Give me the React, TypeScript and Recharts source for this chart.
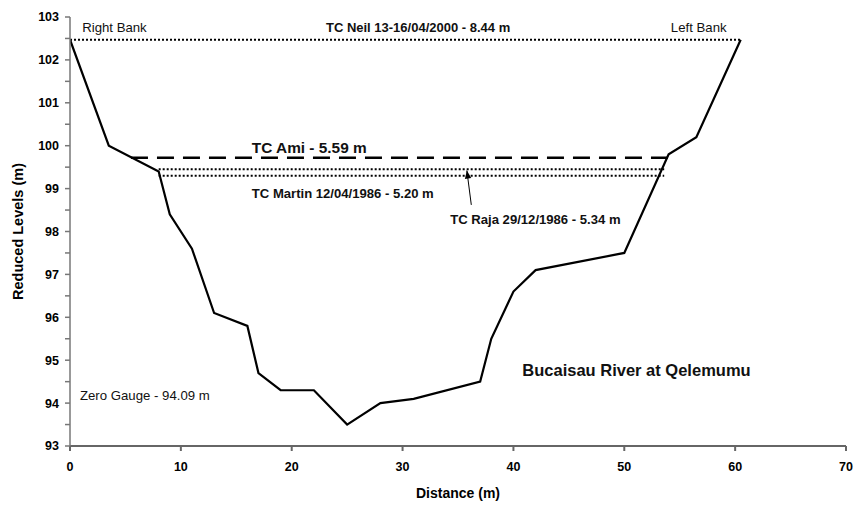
import React from 'react'
import {
  LineChart,
  Line,
  XAxis,
  YAxis,
  ReferenceDot,
} from 'recharts'

// ── Data ───────────────────────────────────────────────────────────────────────

// cross-section: distance (m) vs reduced level (m)
const distance = [0, 3.5, 8, 9, 11, 13, 16, 17, 19, 22, 25, 28, 31, 37, 38, 40, 42, 50, 54, 56.5, 60.5]
const level = [102.47, 100.0, 99.4, 98.4, 97.6, 96.1, 95.8, 94.7, 94.3, 94.3, 93.5, 94.0, 94.1, 94.5, 95.5, 96.6, 97.1, 97.5, 99.8, 100.2, 102.47]

// flood levels as drawn on the section (RL, m)
const neilLevel = 102.47
const amiLevel = 99.72
const rajaLevel = 99.45
const martinLevel = 99.3

// extents of each flood line along the section
const neilSpan = [0, 60.5]
const amiSpan = [5.5, 54]
const lowSpan = [8, 53.6]

const xTicks = [0, 10, 20, 30, 40, 50, 60, 70]
const yTicks = [93, 93.5, 94, 94.5, 95, 95.5, 96, 96.5, 97, 97.5, 98, 98.5, 99, 99.5, 100, 100.5, 101, 101.5, 102, 102.5, 103]

// arrow pointing at TC Raja line: [tail, head]
const rajaArrowX = [36.2, 35.8]
const rajaArrowY = [98.62, 99.42]

// ── Helpers ────────────────────────────────────────────────────────────────────

const FONT = '"Liberation Sans", Arial, sans-serif'

const profile = distance.map((d, i) => ({ x: d, y: level[i] }))
const flat = (span: number[], y: number) => span.map((x) => ({ x, y }))

const neilLine = flat(neilSpan, neilLevel)
const amiLine = flat(amiSpan, amiLevel)
const rajaLine = flat(lowSpan, rajaLevel)
const martinLine = flat(lowSpan, martinLevel)
const arrowLine = rajaArrowX.map((x, i) => ({ x, y: rajaArrowY[i] }))

interface Note {
  text: string
  x: number
  y: number
  size: number
  bold?: boolean
  anchor?: 'start' | 'middle' | 'end'
}

const notes: Note[] = [
  { text: 'Right Bank', x: 1.1, y: 102.66, size: 13.2 },
  { text: 'TC Neil 13-16/04/2000 - 8.44 m', x: 31.4, y: 102.66, size: 13, bold: true, anchor: 'middle' },
  { text: 'Left Bank', x: 54.2, y: 102.66, size: 13.2 },
  { text: 'TC Ami - 5.59 m', x: 16.4, y: 99.83, size: 15.4, bold: true },
  { text: 'TC Martin 12/04/1986 - 5.20 m', x: 16.4, y: 98.78, size: 13.1, bold: true },
  { text: 'TC Raja 29/12/1986 - 5.34 m', x: 34.3, y: 98.17, size: 13.1, bold: true },
  { text: 'Bucaisau River at Qelemumu', x: 40.8, y: 94.63, size: 16.5, bold: true },
  { text: 'Zero Gauge - 94.09 m', x: 0.9, y: 94.07, size: 13.2 },
]

// eslint-disable-next-line @typescript-eslint/no-explicit-any
function ArrowHead(props: any) {
  const { cx, cy, index } = props
  if (index !== 1 || cx == null) return <g key={`a${index}`} />
  // tail → head is almost straight up, leaning a little left
  const ang = Math.atan2(-33, -5)
  const len = 8
  const w = 3.2
  const bx = cx - Math.cos(ang) * len
  const by = cy - Math.sin(ang) * len
  const px = -Math.sin(ang) * w
  const py = Math.cos(ang) * w
  return (
    <polygon
      key={`a${index}`}
      points={`${cx},${cy} ${bx + px},${by + py} ${bx - px},${by - py}`}
      fill="#000"
    />
  )
}

// ── Component ──────────────────────────────────────────────────────────────────

export default function App() {
  return (
    <div style={{ position: 'absolute', left: 0, top: 0, background: '#fff', fontFamily: FONT }}>
      <LineChart
        width={859}
        height={506}
        margin={{ top: 17, right: 13, bottom: 0, left: 0 }}
        style={{ fontFamily: FONT }}
      >
        <XAxis
          type="number"
          dataKey="x"
          domain={[0, 70]}
          ticks={xTicks}
          allowDataOverflow
          stroke="#666"
          strokeWidth={2}
          tickSize={5}
          tickMargin={11}
          tick={{ fill: '#000', fontSize: 12.5, fontWeight: 700 }}
          height={60}
          label={{
            value: 'Distance (m)',
            position: 'insideBottom',
            offset: 8,
            fill: '#000',
            fontSize: 14,
            fontWeight: 700,
          }}
        />
        <YAxis
          type="number"
          dataKey="y"
          domain={[93, 103]}
          ticks={yTicks}
          interval={0}
          allowDataOverflow
          stroke="#777"
          strokeWidth={1.5}
          tickSize={5}
          tickMargin={6}
          width={70}
          tickFormatter={(v: number) => (Number.isInteger(v) ? String(v) : '')}
          tick={{ fill: '#000', fontSize: 12.5, fontWeight: 700 }}
          label={{
            value: 'Reduced Levels (m)',
            angle: -90,
            position: 'insideLeft',
            offset: 18,
            fill: '#000',
            fontSize: 14.5,
            fontWeight: 700,
            style: { textAnchor: 'middle' },
          }}
        />

        <Line
          data={neilLine}
          dataKey="y"
          stroke="#000"
          strokeWidth={2}
          strokeDasharray="2 2"
          dot={false}
          isAnimationActive={false}
        />
        <Line
          data={amiLine}
          dataKey="y"
          stroke="#000"
          strokeWidth={2.5}
          strokeDasharray="17 9"
          dot={false}
          isAnimationActive={false}
        />
        <Line
          data={rajaLine}
          dataKey="y"
          stroke="#000"
          strokeWidth={2}
          strokeDasharray="2 2"
          dot={false}
          isAnimationActive={false}
        />
        <Line
          data={martinLine}
          dataKey="y"
          stroke="#000"
          strokeWidth={2}
          strokeDasharray="2 2"
          dot={false}
          isAnimationActive={false}
        />
        <Line
          data={arrowLine}
          dataKey="y"
          stroke="#000"
          strokeWidth={1}
          dot={ArrowHead}
          activeDot={false}
          isAnimationActive={false}
        />
        <Line
          data={profile}
          dataKey="y"
          type="linear"
          stroke="#000"
          strokeWidth={2.2}
          dot={false}
          isAnimationActive={false}
        />

        {notes.map((n) => (
          <ReferenceDot
            key={n.text}
            x={n.x}
            y={n.y}
            r={0}
            // eslint-disable-next-line @typescript-eslint/no-explicit-any
            shape={(p: any) => (
              <text
                x={p.cx}
                y={p.cy}
                fontSize={n.size}
                fontWeight={n.bold ? 700 : 400}
                textAnchor={n.anchor ?? 'start'}
                fill="#111"
                style={{ fontFamily: FONT }}
              >
                {n.text}
              </text>
            )}
          />
        ))}
      </LineChart>
    </div>
  )
}
